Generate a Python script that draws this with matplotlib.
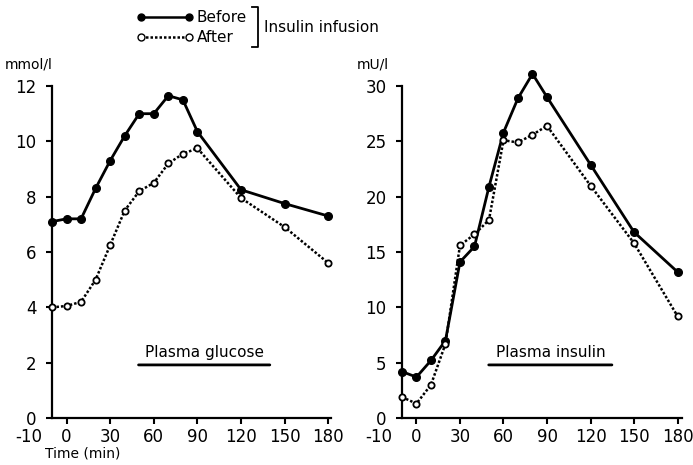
import matplotlib
matplotlib.use('Agg')
import matplotlib.pyplot as plt
from matplotlib.lines import Line2D

time_min = [-10, 0, 10, 20, 30, 40, 50, 60, 70, 80, 90, 120, 150, 180]

glucose_before = [7.1, 7.2, 7.2, 8.3, 9.3, 10.2, 11.0, 11.0, 11.65, 11.5, 10.35, 8.25, 7.75, 7.3]
glucose_after = [4.0, 4.05, 4.2, 5.0, 6.25, 7.5, 8.2, 8.5, 9.2, 9.55, 9.75, 7.95, 6.9, 5.6]

insulin_before = [4.2, 3.7, 5.2, 7.0, 14.1, 15.5, 20.9, 25.8, 28.9, 31.1, 29.0, 22.9, 16.8, 13.2]
insulin_after = [1.9, 1.3, 3.0, 6.7, 15.6, 16.6, 17.9, 25.1, 24.9, 25.6, 26.4, 21.0, 15.8, 9.2]

x_ticks = [0, 30, 60, 90, 120, 150, 180]
glucose_ticks = [0, 2, 4, 6, 8, 10, 12]
insulin_ticks = [0, 5, 10, 15, 20, 25, 30]

plt.rcParams['font.family'] = ['DejaVu Sans']
FS = 11
TFS = 12

fig = plt.figure(figsize=(6.93, 4.65), dpi=100)
ax1 = fig.add_axes([0.075, 0.101, 0.403, 0.714])
ax2 = fig.add_axes([0.580, 0.101, 0.404, 0.714])


def style(ax, before, after, yticks, xmax, label, ul, unit):
    ax.plot(time_min, before, '-', color='black', lw=2.0, marker='o', ms=5.5,
            mfc='black', mec='black', zorder=3, clip_on=False)
    ax.plot(time_min, after, linestyle=(0, (1, 0.8)), color='black', lw=1.8,
            marker='o', ms=4.5, mfc='white', mec='black', mew=1.3, zorder=4,
            clip_on=False)
    ax.set_xlim(-10, xmax)
    ax.set_ylim(0, yticks[-1])
    ax.set_xticks(x_ticks)
    ax.set_xticklabels([str(t) for t in x_ticks], fontsize=TFS)
    ax.set_yticks(yticks)
    ax.set_yticklabels([str(t) for t in yticks], fontsize=TFS)
    for s in ['top', 'right']:
        ax.spines[s].set_visible(False)
    for s in ['left', 'bottom']:
        ax.spines[s].set_linewidth(1.6)
    ax.tick_params(axis='both', direction='out', length=4, width=1.5)
    ax.tick_params(axis='x', pad=3.5)
    ax.tick_params(axis='y', pad=7)
    ax.annotate('-10', xy=(-10, 0), xycoords=('data', 'axes fraction'),
                xytext=(-7, -7.5), textcoords='offset points', ha='right', va='top',
                fontsize=TFS)
    ax.text((ul[0] + ul[1]) / 2, 0.175, label, transform=ax.transAxes, ha='center',
            va='bottom', fontsize=FS)
    ax.annotate('', xy=(ul[0], 0.16), xytext=(ul[1], 0.16), xycoords='axes fraction',
                arrowprops=dict(arrowstyle='-', lw=2.0, color='black',
                                shrinkA=0, shrinkB=0))
    ax.text(-0.17 if unit == 'mmol/l' else -0.16, 1.045, unit, transform=ax.transAxes,
            ha='left', va='bottom', fontsize=FS - 1)


style(ax1, glucose_before, glucose_after, glucose_ticks, 182, 'Plasma glucose',
      (0.31, 0.78), 'mmol/l')
style(ax2, insulin_before, insulin_after, insulin_ticks, 183, 'Plasma insulin',
      (0.31, 0.75), 'mU/l')

fig.text(45 / 693, 1 - 453 / 465, 'Time (min)', ha='left', va='center', fontsize=FS - 1)

# legend drawn by hand
for yy, ls, fc in [(17, '-', 'black'), (37, (0, (1, 0.8)), 'white')]:
    yf = 1 - yy / 465
    fig.add_artist(Line2D([141 / 693, 189 / 693], [yf, yf], color='black', lw=1.8,
                          linestyle=ls, marker='o', ms=5, mfc=fc, mec='black',
                          transform=fig.transFigure))
fig.text(197 / 693, 1 - 17 / 465, 'Before', ha='left', va='center', fontsize=FS)
fig.text(197 / 693, 1 - 37 / 465, 'After', ha='left', va='center', fontsize=FS)
bx = 258 / 693
fig.add_artist(Line2D([bx - 0.008, bx, bx, bx - 0.008],
                      [1 - 7 / 465, 1 - 7 / 465, 1 - 47 / 465, 1 - 47 / 465],
                      color='black', lw=1.3, transform=fig.transFigure))
fig.text(264 / 693, 1 - 28 / 465, 'Insulin infusion', ha='left', va='center', fontsize=FS)

fig.savefig('out.png', dpi=100)
